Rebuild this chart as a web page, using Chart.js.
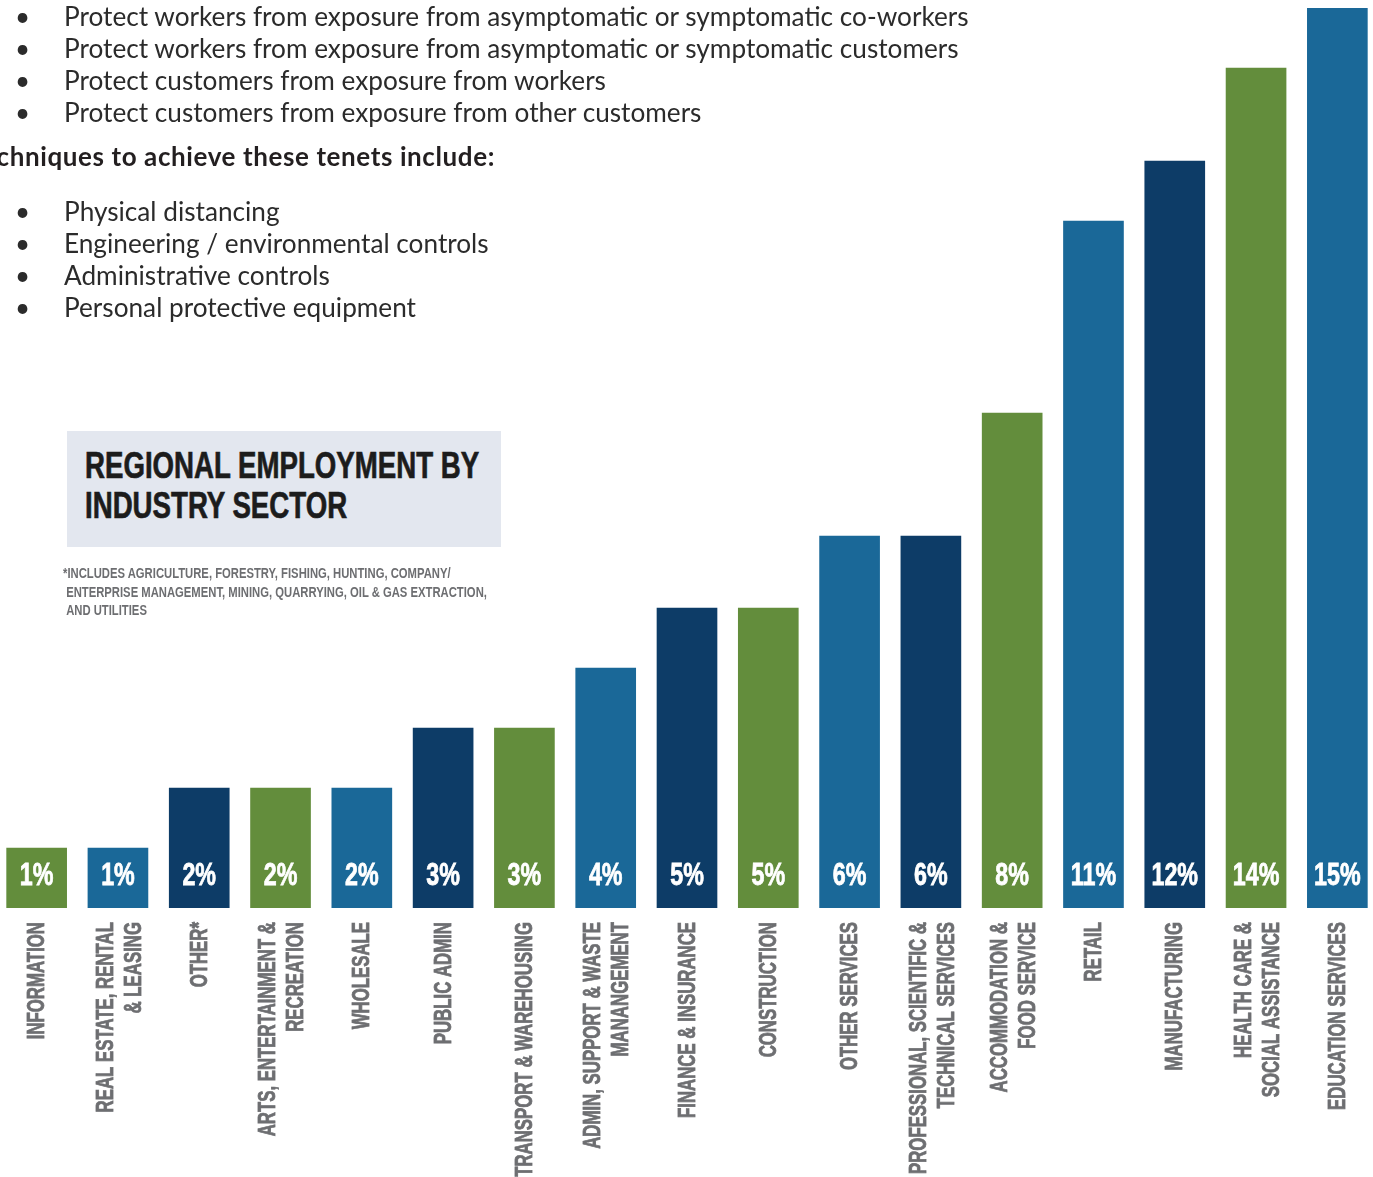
<!DOCTYPE html>
<html>
<head>
<meta charset="utf-8">
<script src="https://cdn.jsdelivr.net/npm/chart.js@4.4.0/dist/chart.umd.min.js"></script>
<style>
  html, body { margin: 0; padding: 0; background: #fff; overflow: hidden; }
  body { width: 1373px; height: 1177px; position: relative; }
  #wrap { position: absolute; left: -4px; top: 0; width: 1382px; height: 1177px; }
  .list { position: absolute; left: 0; margin: 0; padding: 0; list-style: none;
          font-family: Lato, "Open Sans", sans-serif; font-size: 26.2px; color: #2b2b2b; }
  .list li { position: relative; height: 32px; line-height: 32px; padding-left: 64px; white-space: nowrap; }
  .list li::before { content: "\2022"; position: absolute; left: 15px; font-size: 26px; }
  .heading { position: absolute; left: -31px; top: 140px; font-family: Lato, "Open Sans", sans-serif;
             font-weight: bold; font-size: 26px; letter-spacing: 0.6px; color: #231f20; white-space: nowrap; }
  .titlebox { position: absolute; left: 67px; top: 431px; width: 434px; height: 116px; background: #e3e7ef; }
  .titlebox div { position: absolute; left: 18px; top: 15px; font-family: "Liberation Sans", Arial, sans-serif;
                  font-weight: bold; font-size: 37px; line-height: 40px; color: #1c1c1c; white-space: nowrap;
                  -webkit-text-stroke: 0.7px #1c1c1c;
                  transform: scaleX(0.747); transform-origin: left top; }
  .note { position: absolute; left: 63px; top: 564px; font-family: "Liberation Sans", Arial, sans-serif;
          font-weight: bold; font-size: 14px; line-height: 18.5px; color: #6d6e71; white-space: nowrap;
          transform: scaleX(0.805); transform-origin: left top; }
</style>
</head>
<body>
<div id="wrap"><canvas id="chart" width="1382" height="1177"></canvas></div>

<ul class="list" style="top:0px;">
  <li>Protect workers from exposure from asymptomatic or symptomatic co-workers</li>
  <li>Protect workers from exposure from asymptomatic or symptomatic customers</li>
  <li>Protect customers from exposure from workers</li>
  <li>Protect customers from exposure from other customers</li>
</ul>
<div class="heading">Techniques to achieve these tenets include:</div>
<ul class="list" style="top:195px;">
  <li>Physical distancing</li>
  <li>Engineering / environmental controls</li>
  <li>Administrative controls</li>
  <li>Personal protective equipment</li>
</ul>

<div class="titlebox"><div>REGIONAL EMPLOYMENT BY<br>INDUSTRY SECTOR</div></div>
<div class="note">*INCLUDES AGRICULTURE, FORESTRY, FISHING, HUNTING, COMPANY/<br>&nbsp;ENTERPRISE MANAGEMENT, MINING, QUARRYING, OIL &amp; GAS EXTRACTION,<br>&nbsp;AND UTILITIES</div>

<script>
// Sector names (multi-line where the original wraps)
const sectors = [
    'INFORMATION',
    ['REAL ESTATE, RENTAL', '& LEASING'],
    'OTHER*',
    ['ARTS, ENTERTAINMENT &', 'RECREATION'],
    'WHOLESALE',
    'PUBLIC ADMIN',
    'TRANSPORT & WAREHOUSING',
    ['ADMIN, SUPPORT & WASTE', 'MANANGEMENT'],
    'FINANCE & INSURANCE',
    'CONSTRUCTION',
    'OTHER SERVICES',
    ['PROFESSIONAL, SCIENTIFIC &', 'TECHNICAL SERVICES'],
    ['ACCOMMODATION &', 'FOOD SERVICE'],
    'RETAIL',
    'MANUFACTURING',
    ['HEALTH CARE &', 'SOCIAL ASSISTANCE'],
    'EDUCATION SERVICES'
];

// Share of regional employment (%)
const shares = [1, 1, 2, 2, 2, 3, 3, 4, 5, 5, 6.2, 6.2, 8.25, 11.45, 12.45, 14, 15];

// Printed labels inside each bar
const shareLabels = ['1%', '1%', '2%', '2%', '2%', '3%', '3%', '4%', '5%', '5%', '6%', '6%', '8%', '11%', '12%', '14%', '15%'];

const palette = ['#638d3c', '#1a6898', '#0d3c67'];
const barColors = shares.map((v, i) => palette[i % 3]);

const sansFont = '"Liberation Sans", Arial, sans-serif';
const LABEL_SQUEEZE = 0.70;   // fake a condensed face for the axis text
const VALUE_SQUEEZE = 0.75;

// Squeeze the rotated category labels along their length and
// centre the two-line ones on their bar
function condenseLabels(scale) {
    if (scale._condensed) return;
    const drawLabels = scale.drawLabels;
    scale.drawLabels = function (area) {
        const c = this.ctx;
        this.getLabelItems(area).forEach((item) => {
            const tr = item.options && item.options.translation;
            if (tr && Array.isArray(item.label) && !item._moved) {
                tr[0] -= 13;
                item._moved = true;
            }
        });
        // the label clip box gets squeezed too, so stretch it back out
        const bottom = this.bottom;
        this.bottom = this.top + (bottom - this.top) / LABEL_SQUEEZE;
        c.save();
        c.translate(0, this.top);
        c.scale(1, LABEL_SQUEEZE);
        c.translate(0, -this.top);
        drawLabels.call(this, area);
        c.restore();
        this.bottom = bottom;
    };
    scale._condensed = true;
}

// Draw the white percentage labels near the bottom of each bar
const valueLabels = {
    id: 'valueLabels',
    afterDatasetsDraw(chart) {
        const ctx = chart.ctx;
        const meta = chart.getDatasetMeta(0);
        const base = chart.scales.y.getPixelForValue(0);
        ctx.fillStyle = '#ffffff';
        ctx.strokeStyle = '#ffffff';
        ctx.lineWidth = 0.8;
        ctx.font = 'bold 31px ' + sansFont;
        ctx.textAlign = 'center';
        ctx.textBaseline = 'alphabetic';
        meta.data.forEach((bar, i) => {
            ctx.save();
            ctx.translate(bar.x, base - 23);
            ctx.scale(VALUE_SQUEEZE, 1);
            ctx.fillText(shareLabels[i], 0, 0);
            ctx.strokeText(shareLabels[i], 0, 0);
            ctx.restore();
        });
    }
};

const ctx = document.getElementById('chart').getContext('2d');
new Chart(ctx, {
    type: 'bar',
    data: {
        labels: sectors,
        datasets: [{
            data: shares,
            backgroundColor: barColors,
            barThickness: 60,
            borderWidth: 0
        }]
    },
    options: {
        responsive: false,
        devicePixelRatio: 1,
        animation: false,
        layout: { padding: { top: 8, left: 0, right: 0, bottom: 0 } },
        plugins: {
            legend: { display: false },
            tooltip: { enabled: false }
        },
        scales: {
            y: {
                display: false,
                min: 0,
                max: 15
            },
            x: {
                afterFit(scale) {
                    scale.height = 269;
                    scale.paddingLeft = 0;
                    scale.paddingRight = 0;
                },
                afterUpdate: condenseLabels,
                grid: { display: false, drawTicks: false },
                border: { display: false },
                ticks: {
                    autoSkip: false,
                    minRotation: 90,
                    maxRotation: 90,
                    padding: 20,
                    labelOffset: 1,
                    color: '#6d6e71',
                    textStrokeColor: '#6d6e71',
                    textStrokeWidth: 0.8,
                    font: { family: sansFont, weight: 'bold', size: 24, lineHeight: 1.17 }
                }
            }
        }
    },
    plugins: [valueLabels]
});
</script>
</body>
</html>
